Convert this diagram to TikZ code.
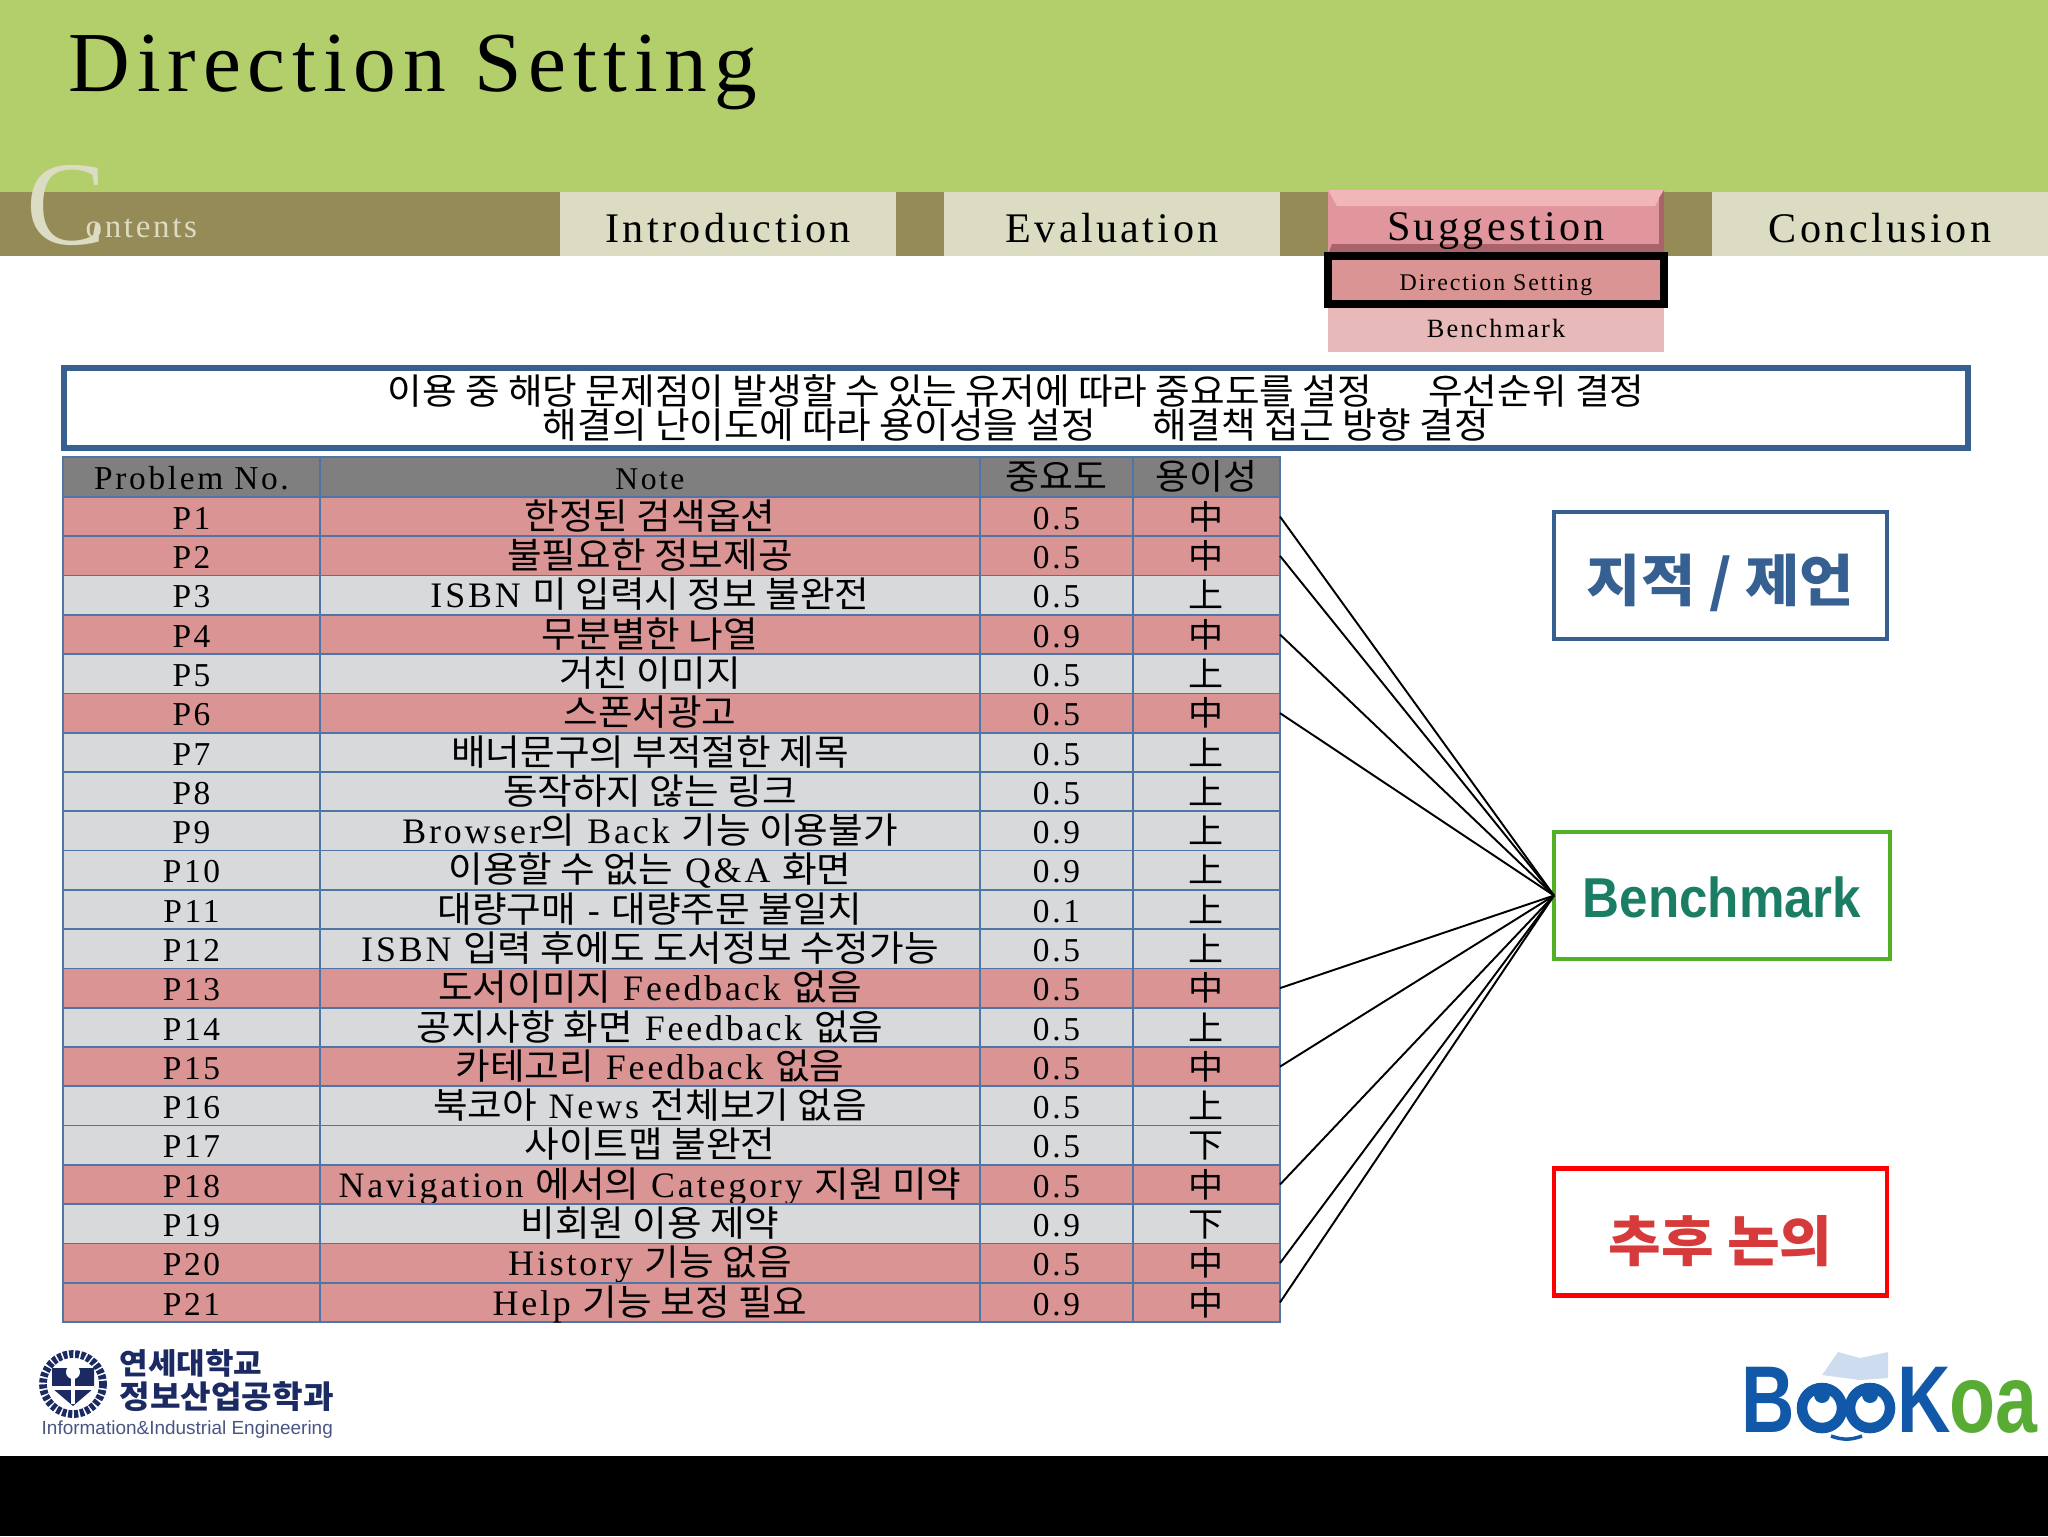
\documentclass[tikz,border=0pt]{standalone}
\usepackage{fontspec}
\setmainfont[LetterSpace=8]{Liberation Serif}
\newfontfamily\krfont[FakeStretch=1.05]{Noto Sans CJK KR}
\newfontfamily\logofont[FakeStretch=.78]{Liberation Sans}
\newfontfamily\sidefont[FakeStretch=.91]{Liberation Sans}
\newfontfamily\smallfont{Liberation Sans}
\newcommand{\kr}[1]{{\krfont #1}}
\definecolor{bandgreen}{RGB}{178,207,108}
\definecolor{bandolive}{RGB}{149,139,86}
\definecolor{tabcream}{RGB}{220,220,194}
\definecolor{seplight}{RGB}{220,220,196}
\definecolor{cellred}{RGB}{219,148,148}
\definecolor{cellgrey}{RGB}{216,217,219}
\definecolor{cellhead}{RGB}{127,127,127}
\definecolor{cellline}{RGB}{79,116,166}
\definecolor{framblue}{RGB}{54,96,146}
\definecolor{framgreen}{RGB}{82,176,38}
\definecolor{yonsei}{RGB}{28,42,100}
\definecolor{bookblue}{RGB}{18,88,168}
\definecolor{bookgreen}{RGB}{88,172,52}
\definecolor{btnface}{RGB}{224,150,156}
\definecolor{btnlight}{RGB}{240,182,186}
\definecolor{btndark}{RGB}{170,100,105}
\definecolor{benchtext}{RGB}{26,125,100}
\definecolor{latertext}{RGB}{214,58,58}
\definecolor{bookpage}{RGB}{205,220,238}
\tikzset{
  tabcell/.style={fill=tabcream,minimum width=33.6mm,minimum height=6.4mm,inner sep=0pt,outer sep=0pt,
    text height=14.5pt,text depth=3.7pt,font=\fontsize{12}{13}\selectfont},
  cell/.style={draw=cellline,line width=.5pt,inner sep=0pt,outer sep=0pt,minimum height=3.929mm,
    text height=9.18pt,text depth=2pt,font=\fontsize{9.5}{10}\selectfont},
  redcell/.style={cell,fill=cellred},
  greycell/.style={cell,fill=cellgrey},
  headcell/.style={cell,fill=cellhead},
  colno/.style={minimum width=25.7mm},
  colnote/.style={minimum width=66mm,font=\fontsize{10.2}{11}\selectfont},
  colimp/.style={minimum width=15.3mm},
  coleasy/.style={minimum width=14.7mm},
  sidebox/.style={fill=white,minimum width=33.3mm,minimum height=12.7mm,outer sep=0pt,inner sep=0pt,text depth=0pt},
  link/.style={line width=.55pt,black}
}
\begin{document}
\begin{tikzpicture}[x=.1mm,y=-.1mm]
  \useasboundingbox (0,0) rectangle (2048,1536);
  % header
  \fill[bandgreen] (0,0) rectangle (2048,192);
  \fill[bandolive] (0,192) rectangle (2048,256);
  \fill[black] (0,1456) rectangle (2048,1536);
  \node[anchor=base west,inner sep=0pt,font=\fontsize{24.3}{26}\selectfont] (title) at (68,91) {Direction Setting};
  \node[anchor=base west,inner sep=0pt,text=seplight,font=\fontsize{9.4}{11}\selectfont] (contents) at (85,237) {ontents};
  \node[anchor=base west,inner sep=0pt,text=seplight,font=\fontsize{34}{36}\selectfont] (bigc) at (26,244) {C};
  \draw
    (728,224) node[tabcell] (intro){Introduction}
    (1112,224) node[tabcell] (eval){Evaluation}
    (1880,224) node[tabcell] (concl){Conclusion};
  % suggestion button
  \fill[btnface] (1328,190) rectangle (1664,254);
  \fill[btnlight] (1328,190) -- (1664,190) -- (1655,206) -- (1337,206) -- cycle;
  \fill[btndark] (1664,190) -- (1664,254) -- (1659,250) -- (1659,198) -- cycle;
  \fill[btndark] (1328,254) -- (1664,254) -- (1660,244) -- (1332,244) -- cycle;
  \node[inner sep=0pt,text height=14.5pt,text depth=3.7pt,font=\fontsize{12}{13}\selectfont] (sugg) at (1496,222) {Suggestion};
  \node[fill=cellred,draw=black,line width=2.3pt,minimum width=33.6mm,minimum height=4.8mm,inner sep=0pt,outer sep=0pt,
    text height=9.7pt,text depth=4pt,font=\fontsize{6.8}{8}\selectfont] (direct) at (1496,280) {Direction Setting};
  \node[fill=cellred!65!white,minimum width=33.6mm,minimum height=4.4mm,inner sep=0pt,outer sep=0pt,
    text height=8.5pt,text depth=4pt,font=\fontsize{7.5}{8}\selectfont] (bench) at (1496,330) {Benchmark};
  % notice
  \node[draw=framblue,line width=1.7pt,minimum width=190.4mm,minimum height=8mm,align=center,inner sep=0pt,
    font=\fontsize{10.2}{9.7}\selectfont\krfont] (notice) at (1016,408)
    {이용 중 해당 문제점이 발생할 수 있는 유저에 따라 중요도를 설정\hspace{16pt}우선순위 결정\\
     해결의 난이도에 따라 용이성을 설정\hspace{16pt}해결책 접근 방향 결정};
  % table
  \draw
    (191.5,477) node[headcell,colno] (nohead){Problem No.}
    (650,477) node[headcell,colnote,font=\fontsize{9}{10}\selectfont] (notehead){Note}
    (1056.5,477) node[headcell,colimp] (imphead){\kr{\fontsize{10}{11}\selectfont 중요도}}
    (1206.5,477) node[headcell,coleasy] (easyhead){\kr{\fontsize{10}{11}\selectfont 용이성}};
  \draw (191.5,516.6) node[redcell,colno] (no1){P1} (650,516.6) node[redcell,colnote] (note1){\kr{한정된 검색옵션}}
    (1056.5,516.6) node[redcell,colimp] (imp1){0.5} (1206.5,516.6) node[redcell,coleasy] (easy1){\kr{中}};
  \draw (191.5,555.9) node[redcell,colno] (no2){P2} (650,555.9) node[redcell,colnote] (note2){\kr{불필요한 정보제공}}
    (1056.5,555.9) node[redcell,colimp] (imp2){0.5} (1206.5,555.9) node[redcell,coleasy] (easy2){\kr{中}};
  \draw (191.5,595.2) node[greycell,colno] (no3){P3} (650,595.2) node[greycell,colnote] (note3){ISBN \kr{미 입력시 정보 불완전}}
    (1056.5,595.2) node[greycell,colimp] (imp3){0.5} (1206.5,595.2) node[greycell,coleasy] (easy3){\kr{上}};
  \draw (191.5,634.5) node[redcell,colno] (no4){P4} (650,634.5) node[redcell,colnote] (note4){\kr{무분별한 나열}}
    (1056.5,634.5) node[redcell,colimp] (imp4){0.9} (1206.5,634.5) node[redcell,coleasy] (easy4){\kr{中}};
  \draw (191.5,673.8) node[greycell,colno] (no5){P5} (650,673.8) node[greycell,colnote] (note5){\kr{거친 이미지}}
    (1056.5,673.8) node[greycell,colimp] (imp5){0.5} (1206.5,673.8) node[greycell,coleasy] (easy5){\kr{上}};
  \draw (191.5,713.1) node[redcell,colno] (no6){P6} (650,713.1) node[redcell,colnote] (note6){\kr{스폰서광고}}
    (1056.5,713.1) node[redcell,colimp] (imp6){0.5} (1206.5,713.1) node[redcell,coleasy] (easy6){\kr{中}};
  \draw (191.5,752.4) node[greycell,colno] (no7){P7} (650,752.4) node[greycell,colnote] (note7){\kr{배너문구의 부적절한 제목}}
    (1056.5,752.4) node[greycell,colimp] (imp7){0.5} (1206.5,752.4) node[greycell,coleasy] (easy7){\kr{上}};
  \draw (191.5,791.6) node[greycell,colno] (no8){P8} (650,791.6) node[greycell,colnote] (note8){\kr{동작하지 않는 링크}}
    (1056.5,791.6) node[greycell,colimp] (imp8){0.5} (1206.5,791.6) node[greycell,coleasy] (easy8){\kr{上}};
  \draw (191.5,830.9) node[greycell,colno] (no9){P9} (650,830.9) node[greycell,colnote] (note9){Browser\kr{의} Back \kr{기능 이용불가}}
    (1056.5,830.9) node[greycell,colimp] (imp9){0.9} (1206.5,830.9) node[greycell,coleasy] (easy9){\kr{上}};
  \draw (191.5,870.2) node[greycell,colno] (no10){P10} (650,870.2) node[greycell,colnote] (note10){\kr{이용할 수 없는} Q\&A \kr{화면}}
    (1056.5,870.2) node[greycell,colimp] (imp10){0.9} (1206.5,870.2) node[greycell,coleasy] (easy10){\kr{上}};
  \draw (191.5,909.5) node[greycell,colno] (no11){P11} (650,909.5) node[greycell,colnote] (note11){\kr{대량구매} - \kr{대량주문 불일치}}
    (1056.5,909.5) node[greycell,colimp] (imp11){0.1} (1206.5,909.5) node[greycell,coleasy] (easy11){\kr{上}};
  \draw (191.5,948.8) node[greycell,colno] (no12){P12} (650,948.8) node[greycell,colnote] (note12){ISBN \kr{입력 후에도 도서정보 수정가능}}
    (1056.5,948.8) node[greycell,colimp] (imp12){0.5} (1206.5,948.8) node[greycell,coleasy] (easy12){\kr{上}};
  \draw (191.5,988.1) node[redcell,colno] (no13){P13} (650,988.1) node[redcell,colnote] (note13){\kr{도서이미지} Feedback \kr{없음}}
    (1056.5,988.1) node[redcell,colimp] (imp13){0.5} (1206.5,988.1) node[redcell,coleasy] (easy13){\kr{中}};
  \draw (191.5,1027.4) node[greycell,colno] (no14){P14} (650,1027.4) node[greycell,colnote] (note14){\kr{공지사항 화면} Feedback \kr{없음}}
    (1056.5,1027.4) node[greycell,colimp] (imp14){0.5} (1206.5,1027.4) node[greycell,coleasy] (easy14){\kr{上}};
  \draw (191.5,1066.6) node[redcell,colno] (no15){P15} (650,1066.6) node[redcell,colnote] (note15){\kr{카테고리} Feedback \kr{없음}}
    (1056.5,1066.6) node[redcell,colimp] (imp15){0.5} (1206.5,1066.6) node[redcell,coleasy] (easy15){\kr{中}};
  \draw (191.5,1105.9) node[greycell,colno] (no16){P16} (650,1105.9) node[greycell,colnote] (note16){\kr{북코아} News \kr{전체보기 없음}}
    (1056.5,1105.9) node[greycell,colimp] (imp16){0.5} (1206.5,1105.9) node[greycell,coleasy] (easy16){\kr{上}};
  \draw (191.5,1145.2) node[greycell,colno] (no17){P17} (650,1145.2) node[greycell,colnote] (note17){\kr{사이트맵 불완전}}
    (1056.5,1145.2) node[greycell,colimp] (imp17){0.5} (1206.5,1145.2) node[greycell,coleasy] (easy17){\kr{下}};
  \draw (191.5,1184.5) node[redcell,colno] (no18){P18} (650,1184.5) node[redcell,colnote] (note18){Navigation \kr{에서의} Category \kr{지원 미약}}
    (1056.5,1184.5) node[redcell,colimp] (imp18){0.5} (1206.5,1184.5) node[redcell,coleasy] (easy18){\kr{中}};
  \draw (191.5,1223.8) node[greycell,colno] (no19){P19} (650,1223.8) node[greycell,colnote] (note19){\kr{비회원 이용 제약}}
    (1056.5,1223.8) node[greycell,colimp] (imp19){0.9} (1206.5,1223.8) node[greycell,coleasy] (easy19){\kr{下}};
  \draw (191.5,1263.1) node[redcell,colno] (no20){P20} (650,1263.1) node[redcell,colnote] (note20){History \kr{기능 없음}}
    (1056.5,1263.1) node[redcell,colimp] (imp20){0.5} (1206.5,1263.1) node[redcell,coleasy] (easy20){\kr{中}};
  \draw (191.5,1302.4) node[redcell,colno] (no21){P21} (650,1302.4) node[redcell,colnote] (note21){Help \kr{기능 보정 필요}}
    (1056.5,1302.4) node[redcell,colimp] (imp21){0.9} (1206.5,1302.4) node[redcell,coleasy] (easy21){\kr{中}};
  % side boxes
  \draw
    (1720.5,575.5) node[sidebox,draw=framblue,line width=1.2pt,text=framblue,text height=14.5pt,
      font=\fontsize{16}{17}\selectfont\bfseries\krfont] (advice){지적 / 제언}
    (1722,895.5) node[sidebox,draw=framgreen,line width=1.4pt,text=benchtext,minimum width=33.6mm,text height=12.5pt,
      font=\fontsize{16}{17}\selectfont\bfseries\sidefont] (benchbox){Benchmark}
    (1720.5,1232) node[sidebox,draw=red,line width=1.4pt,text=latertext,text height=17pt,
      font=\fontsize{15.5}{17}\selectfont\bfseries\krfont] (later){추후 논의};
  \begin{scope}[link]
    \draw (easy1.east) to (benchbox.west);
    \draw (easy2.east) to (benchbox.west);
    \draw (easy4.east) to (benchbox.west);
    \draw (easy6.east) to (benchbox.west);
    \draw (easy13.east) to (benchbox.west);
    \draw (easy15.east) to (benchbox.west);
    \draw (easy18.east) to (benchbox.west);
    \draw (easy20.east) to (benchbox.west);
    \draw (easy21.east) to (benchbox.west);
  \end{scope}
  % yonsei logo
  \draw[yonsei,line width=2.2pt,dash pattern=on 1.2pt off .5pt] (73,1384) circle (30);
  \fill[yonsei] (52,1368) -- (94,1368) -- (94,1388) -- (73,1406) -- (52,1388) -- cycle;
  \fill[white] (73,1372) circle (7);
  \draw[white,line width=1.1pt] (52,1388) -- (94,1388) (73,1378) -- (73,1404);
  \node[anchor=west,inner sep=0pt,text=yonsei,font=\fontsize{8.4}{10}\selectfont\bfseries\krfont] (yonseia) at (119,1363) {연세대학교};
  \node[anchor=west,inner sep=0pt,text=yonsei,font=\fontsize{9}{10}\selectfont\bfseries\krfont] (yonseib) at (119,1397) {정보산업공학과};
  \node[anchor=west,inner sep=0pt,text=yonsei!80!white,font=\fontsize{5.4}{6}\selectfont\smallfont] (yonseic) at (41,1430) {Information\&Industrial Engineering};
  % bookoa logo
  \fill[bookpage] (1822,1375) -- (1838,1352) -- (1860,1358) -- (1888,1352) -- (1888,1378) -- (1860,1380) -- cycle;
  \node[anchor=base west,inner sep=0pt,text=bookblue,font=\fontsize{27}{28}\selectfont\bfseries\logofont] (bookb) at (1741,1432) {B};
  \node[anchor=base west,inner sep=0pt,text=bookblue,font=\fontsize{27}{28}\selectfont\bfseries\logofont] (bookk) at (1897,1432) {K};
  \node[anchor=base west,inner sep=0pt,text=bookgreen,font=\fontsize{27.5}{28}\selectfont\bfseries\logofont] (booka) at (1949,1432) {oa};
  \draw[bookblue,line width=3pt] (1822,1408) circle (20) (1870,1408) circle (20);
  \fill[bookblue] (1822,1395) circle (8) (1870,1395) circle (8);
  \draw[bookblue,line width=1pt] (1831,1436) to[bend right=20] (1862,1436);
\end{tikzpicture}
\end{document}
